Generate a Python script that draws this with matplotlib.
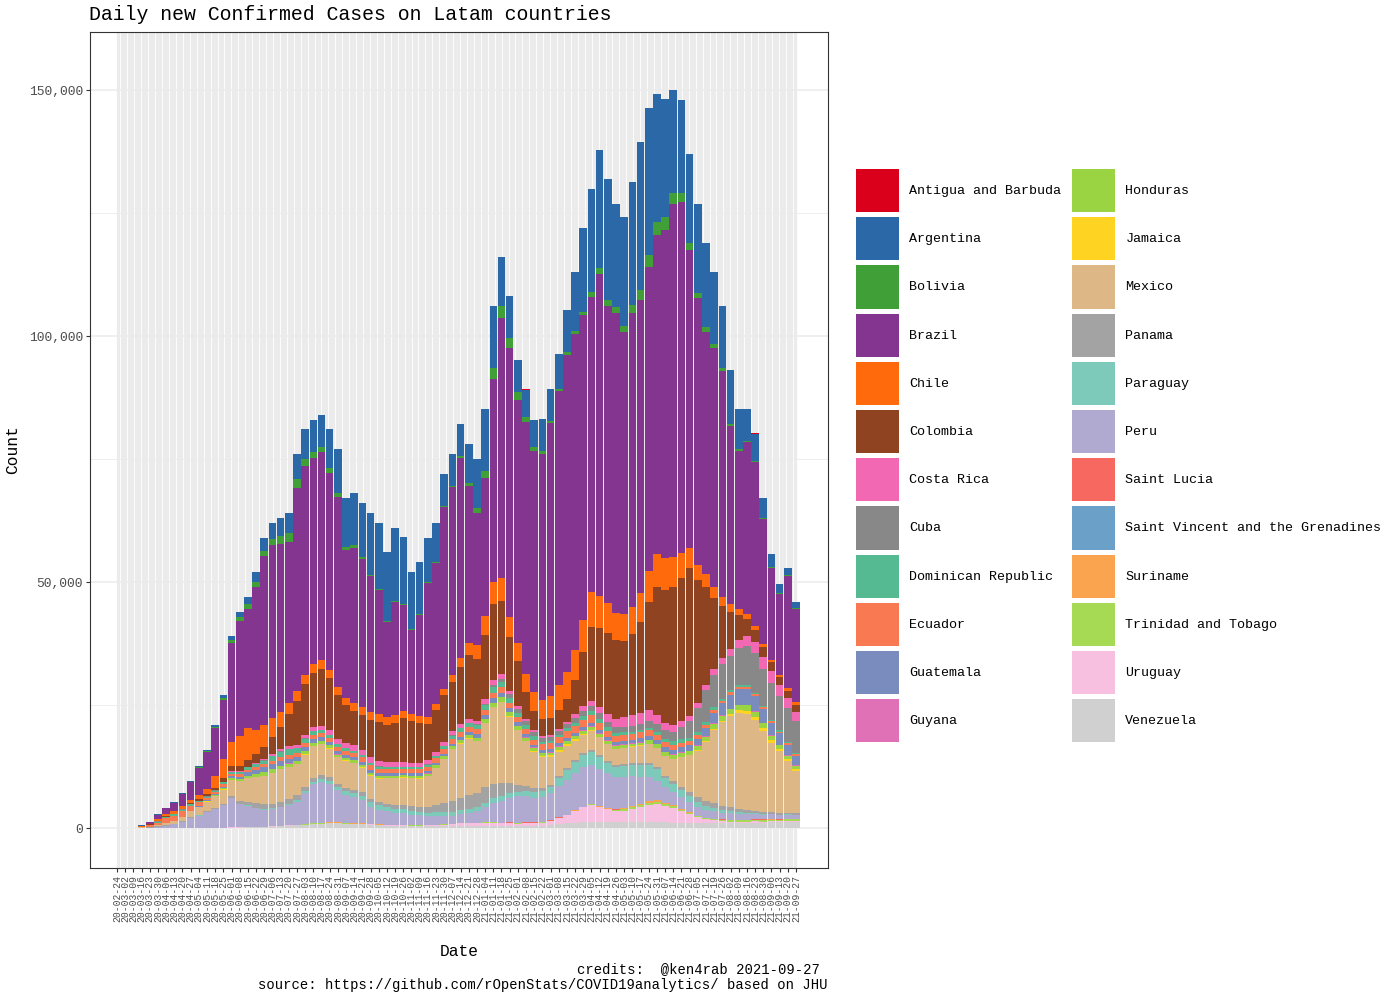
import numpy as np
import pandas as pd
import matplotlib
matplotlib.use("Agg")
import matplotlib.pyplot as plt
import matplotlib.dates as mdates
from matplotlib.patches import Patch
from matplotlib.ticker import FuncFormatter

plt.rcParams['font.family'] = ['Liberation Mono', 'DejaVu Sans Mono']

# one reading per week (monday), the x axis goes from 20-02-24 to 21-09-27
weeks = pd.date_range("2020-02-24", "2021-09-27", freq="7D")

countries = ["Antigua and Barbuda", "Argentina", "Bolivia", "Brazil", "Chile",
             "Colombia", "Costa Rica", "Cuba", "Dominican Republic", "Ecuador",
             "Guatemala", "Guyana", "Honduras", "Jamaica", "Mexico", "Panama",
             "Paraguay", "Peru", "Saint Lucia", "Saint Vincent and the Grenadines",
             "Suriname", "Trinidad and Tobago", "Uruguay", "Venezuela"]
colors = ["#DA001C", "#2B68A8", "#40A037", "#84358F", "#FF6A0C",
          "#8F4320", "#F268B2", "#888888", "#55B991", "#F97A52",
          "#7A8BBE", "#E071B6", "#9AD442", "#FFD322", "#DDB785", "#A3A3A3",
          "#7DCABA", "#B0A9D0", "#F76960", "#6BA0C9",
          "#FBA450", "#A6DA55", "#F8C0E0", "#D0D0D0"]

# daily new confirmed cases (thousands)
antigua = [0]*40 + [0, 0, 0, 0, 0, 0, 0, 0, 0.005, 0.01,
           0.02, 0.02, 0.01, 0.01, 0.005, 0.005, 0.005, 0.005, 0.005, 0.005] + [0.002]*10 + \
          [0, 0, 0, 0.005, 0.01, 0.02, 0.03, 0.04, 0.05, 0.05, 0.05, 0.04, 0.03, 0.02]
argentina = [0, 0, 0.005, 0.05, 0.08, 0.1, 0.1, 0.1, 0.12, 0.15,
             0.2, 0.25, 0.4, 0.6, 0.8, 1.2, 1.5, 2.0, 2.6, 3.2,
             3.6, 4.0, 5.0, 6.0, 6.5, 6.5, 8.0, 9.0, 10.0, 10.5,
             11.0, 12.5, 13.5, 14.0, 15.0, 13.5, 11.5, 10.5, 9.0, 8.0,
             6.5, 6.5, 6.5, 8.0, 10.0, 12.5, 12.5, 10.0, 8.5, 6.5,
             5.5, 5.5, 6.5, 6.5, 7.0, 8.5, 12.0, 17.0, 21.0, 24.0,
             24.5, 21.0, 22.0, 25.0, 30.0, 30.0, 26.0, 24.0, 21.0, 19.0,
             18.0, 18.0, 17.0, 14.5, 12.5, 11.0, 8.0, 6.5, 5.5, 4.0,
             2.5, 1.8, 1.5, 1.2]
bolivia = [0, 0, 0, 0.01, 0.01, 0.01, 0.02, 0.02, 0.03, 0.05,
           0.1, 0.15, 0.3, 0.4, 0.5, 0.7, 0.9, 1.0, 1.1, 1.3,
           1.6, 1.8, 1.8, 1.5, 1.4, 1.2, 1.0, 0.8, 0.6, 0.5,
           0.4, 0.3, 0.2, 0.2, 0.2, 0.2, 0.2, 0.2, 0.2, 0.2,
           0.2, 0.3, 0.4, 0.6, 1.0, 1.5, 2.2, 2.4, 2.0, 1.5,
           1.0, 0.8, 0.6, 0.5, 0.5, 0.5, 0.5, 0.7, 1.0, 1.2,
           1.3, 1.2, 1.3, 1.6, 2.0, 2.4, 2.7, 2.5, 2.1, 1.8,
           1.5, 1.2, 1.0, 0.8, 0.6, 0.5, 0.4, 0.3, 0.3, 0.3,
           0.3, 0.2, 0.2, 0.2]
brazil = [0, 0.01, 0.03, 0.14, 0.3, 0.94, 1.24, 1.7, 2.5, 3.7,
          5.5, 7.5, 9.6, 11.9, 20.2, 23.4, 24.2, 29.0, 34.3, 35.1,
          34.2, 32.8, 41.3, 42.4, 41.8, 42.2, 40.0, 38.6, 29.9, 31.7,
          30.1, 27.7, 25.2, 19.2, 22.9, 21.5, 17.1, 20.6, 27.3, 28.6,
          37.1, 38.2, 40.6, 31.9, 26.8, 28.0, 41.2, 52.9, 54.7, 49.4,
          51.3, 49.0, 50.0, 55.4, 59.8, 64.6, 64.3, 62.0, 60.0, 65.5,
          60.4, 61.0, 57.3, 59.7, 59.6, 61.7, 64.8, 66.7, 71.9, 71.4,
          60.6, 54.2, 49.3, 48.7, 46.0, 36.2, 32.2, 34.8, 33.3, 25.4,
          18.6, 16.5, 22.8, 19.1]
chile = [0, 0, 0.01, 0.05, 0.15, 0.3, 0.4, 0.45, 0.45, 0.5,
         0.8, 1.2, 2.5, 4.0, 5.0, 6.0, 6.5, 5.0, 4.5, 4.0,
         3.0, 2.3, 2.0, 1.8, 1.8, 1.8, 1.7, 1.6, 1.5, 1.5,
         1.6, 1.6, 1.5, 1.7, 1.6, 1.5, 1.4, 1.4, 1.3, 1.2,
         1.2, 1.4, 1.8, 2.4, 3.0, 3.8, 4.5, 4.5, 4.0, 3.8,
         3.6, 3.8, 4.0, 4.5, 5.0, 5.5, 6.0, 6.5, 7.0, 6.5,
         6.0, 5.5, 5.5, 5.5, 5.8, 6.3, 6.8, 6.5, 6.0, 5.0,
         4.0, 3.0, 2.5, 2.2, 1.8, 1.5, 1.2, 1.0, 0.8, 0.6,
         0.5, 0.5, 0.6, 0.6]
colombia = [0, 0, 0, 0.02, 0.05, 0.1, 0.1, 0.12, 0.15, 0.25,
            0.35, 0.4, 0.5, 0.7, 1.0, 1.2, 1.4, 1.8, 2.5, 3.3,
            4.5, 6.5, 9.0, 10.5, 11.0, 11.5, 10.5, 9.0, 7.8, 7.0,
            7.0, 7.5, 8.0, 7.5, 8.0, 9.0, 8.5, 8.0, 7.5, 8.5,
            9.5, 10.0, 11.5, 13.0, 12.5, 13.0, 15.5, 15.0, 11.0, 9.0,
            5.5, 4.0, 3.3, 3.5, 3.8, 4.5, 7.0, 11.0, 15.0, 16.0,
            16.5, 16.0, 15.5, 16.5, 18.5, 22.0, 26.0, 27.0, 28.0, 29.0,
            30.0, 25.0, 20.0, 14.5, 10.5, 7.5, 5.0, 3.5, 2.5, 2.0,
            1.8, 1.5, 1.4, 1.3]
costa_rica = [0, 0, 0.005, 0.01, 0.02, 0.02, 0.02, 0.01, 0.005, 0.005,
              0.005, 0.01, 0.01, 0.01, 0.02, 0.04, 0.08, 0.15, 0.25, 0.4,
              0.5, 0.55, 0.6, 0.65, 0.75, 0.85, 0.9, 0.9, 1.0, 1.1,
              1.0, 1.1, 1.1, 1.0, 0.9, 0.9, 0.9, 0.8, 0.8, 0.8,
              0.8, 0.8, 0.9, 0.8, 0.7, 1.0, 1.0, 0.9, 0.7, 0.6,
              0.5, 0.4, 0.4, 0.4, 0.4, 0.5, 0.7, 0.9, 1.1, 1.4,
              1.6, 1.7, 1.9, 2.2, 2.3, 2.2, 1.8, 1.5, 1.4, 1.2,
              1.0, 1.0, 1.1, 1.2, 1.3, 1.5, 1.7, 2.0, 2.3, 2.4,
              2.4, 2.2, 2.0, 1.8]
cuba = [0, 0, 0, 0.01, 0.02, 0.03, 0.04, 0.04, 0.03, 0.02,
        0.02, 0.01, 0.01, 0.01, 0.01, 0.01, 0.01, 0.01, 0.01, 0.01,
        0.01, 0.02, 0.03, 0.04, 0.04, 0.05, 0.05, 0.05, 0.05, 0.05,
        0.05, 0.04, 0.04, 0.05, 0.05, 0.05, 0.05, 0.05, 0.05, 0.05,
        0.05, 0.05, 0.06, 0.07, 0.1, 0.3, 0.5, 0.6, 0.8, 0.9,
        0.8, 0.8, 0.8, 0.8, 0.8, 0.9, 1.0, 1.1, 1.1, 1.1,
        1.1, 1.1, 1.2, 1.2, 1.3, 1.4, 1.6, 1.8, 2.0, 2.5,
        3.5, 5.0, 6.5, 6.5, 7.0, 7.0, 7.5, 8.0, 8.0, 7.5,
        7.5, 7.0, 6.8, 6.5]
dominican = [0, 0, 0, 0.01, 0.05, 0.2, 0.25, 0.3, 0.3, 0.35,
             0.3, 0.3, 0.35, 0.4, 0.4, 0.5, 0.6, 0.7, 0.8, 1.0,
             1.1, 1.1, 1.0, 0.9, 0.8, 0.7, 0.6, 0.6, 0.5, 0.5,
             0.5, 0.5, 0.4, 0.4, 0.4, 0.4, 0.4, 0.5, 0.5, 0.5,
             0.6, 0.7, 0.8, 0.8, 0.9, 1.0, 1.1, 1.1, 1.0, 0.9,
             0.8, 0.7, 0.6, 0.5, 0.5, 0.5, 0.6, 0.7, 0.8, 0.8,
             0.7, 0.6, 0.5, 0.4, 0.4, 0.5, 0.6, 0.7, 0.8, 0.8,
             0.7, 0.6, 0.5, 0.5, 0.4, 0.4, 0.4, 0.4, 0.3, 0.3,
             0.3, 0.3, 0.3, 0.3]
ecuador = [0, 0, 0.01, 0.1, 0.3, 0.5, 0.9, 1.0, 1.2, 1.0,
           0.8, 0.5, 0.4, 0.6, 0.6, 0.5, 0.4, 0.5, 0.6, 0.7,
           0.8, 0.8, 0.8, 0.9, 0.9, 0.8, 0.8, 0.9, 0.8, 0.8,
           0.9, 0.9, 0.9, 0.9, 0.9, 0.8, 0.8, 0.8, 0.8, 0.9,
           0.9, 1.0, 1.0, 1.0, 1.0, 1.0, 1.1, 1.1, 1.0, 1.0,
           1.0, 1.0, 1.1, 1.2, 1.3, 1.4, 1.5, 1.5, 1.5, 1.4,
           1.3, 1.3, 1.2, 1.2, 1.2, 1.1, 1.0, 1.0, 0.9, 0.9,
           0.8, 0.7, 0.6, 0.6, 0.5, 0.5, 0.5, 0.4, 0.4, 0.4,
           0.3, 0.3, 0.3, 0.3]
guatemala = [0, 0, 0, 0.005, 0.01, 0.01, 0.01, 0.02, 0.03, 0.05,
             0.07, 0.1, 0.15, 0.25, 0.4, 0.55, 0.7, 0.9, 1.0, 1.0,
             1.0, 1.0, 0.9, 0.8, 0.7, 0.7, 0.7, 0.6, 0.6, 0.6,
             0.6, 0.6, 0.5, 0.5, 0.5, 0.5, 0.5, 0.5, 0.5, 0.5,
             0.5, 0.5, 0.6, 0.6, 0.7, 0.8, 0.9, 0.9, 0.8, 0.8,
             0.7, 0.6, 0.6, 0.6, 0.6, 0.6, 0.6, 0.7, 0.7, 0.7,
             0.7, 0.7, 0.7, 0.7, 0.8, 0.8, 0.8, 0.9, 0.9, 1.0,
             1.1, 1.3, 1.7, 2.1, 2.5, 2.8, 3.1, 3.2, 3.0, 2.8,
             2.6, 2.4, 2.2, 2.0]
guyana = [0, 0, 0, 0, 0.002, 0.002, 0.003, 0.003, 0.003, 0.003,
          0.004, 0.005, 0.006, 0.007, 0.008, 0.01, 0.01, 0.01, 0.01, 0.01,
          0.01, 0.015, 0.02, 0.03, 0.04, 0.05, 0.06, 0.06, 0.05, 0.04,
          0.03, 0.03, 0.03, 0.03, 0.03, 0.03, 0.03, 0.02, 0.02, 0.02,
          0.02, 0.02, 0.02, 0.02, 0.02, 0.02, 0.03, 0.03, 0.03, 0.03,
          0.03, 0.03, 0.03, 0.04, 0.05, 0.06, 0.08, 0.1, 0.1, 0.1,
          0.1, 0.1, 0.1, 0.1, 0.1, 0.1, 0.1, 0.1, 0.1, 0.1,
          0.1, 0.1, 0.1, 0.1, 0.08, 0.08, 0.08, 0.1, 0.1, 0.1,
          0.1, 0.1, 0.1, 0.1]
honduras = [0, 0, 0, 0.01, 0.02, 0.04, 0.03, 0.03, 0.04, 0.06,
            0.08, 0.1, 0.15, 0.25, 0.3, 0.4, 0.5, 0.6, 0.7, 0.7,
            0.7, 0.7, 0.6, 0.6, 0.6, 0.6, 0.6, 0.5, 0.5, 0.5,
            0.5, 0.5, 0.5, 0.4, 0.4, 0.4, 0.4, 0.5, 0.5, 0.5,
            0.5, 0.5, 0.6, 0.6, 0.6, 0.8, 0.9, 0.9, 0.8, 0.7,
            0.6, 0.6, 0.6, 0.6, 0.6, 0.6, 0.6, 0.6, 0.6, 0.6,
            0.6, 0.6, 0.6, 0.6, 0.6, 0.7, 0.7, 0.7, 0.8, 0.8,
            0.8, 0.9, 0.9, 1.0, 1.0, 1.1, 1.1, 1.2, 1.1, 1.0,
            0.9, 0.8, 0.7, 0.6]
jamaica = [0, 0, 0, 0.005, 0.005, 0.01, 0.01, 0.01, 0.01, 0.01,
           0.01, 0.01, 0.01, 0.01, 0.01, 0.01, 0.01, 0.01, 0.01, 0.01,
           0.01, 0.02, 0.02, 0.02, 0.02, 0.03, 0.05, 0.08, 0.1, 0.1,
           0.1, 0.1, 0.1, 0.08, 0.07, 0.06, 0.05, 0.05, 0.05, 0.05,
           0.06, 0.07, 0.08, 0.08, 0.07, 0.07, 0.07, 0.08, 0.1, 0.12,
           0.15, 0.2, 0.3, 0.4, 0.4, 0.35, 0.3, 0.25, 0.2, 0.15,
           0.12, 0.1, 0.1, 0.1, 0.1, 0.1, 0.1, 0.08, 0.08, 0.08,
           0.1, 0.12, 0.15, 0.2, 0.3, 0.4, 0.5, 0.6, 0.6, 0.5,
           0.5, 0.4, 0.4, 0.35]
mexico = [0, 0, 0.01, 0.03, 0.08, 0.2, 0.4, 0.5, 0.8, 1.2,
          1.6, 2.0, 2.5, 3.0, 3.3, 4.0, 4.8, 5.3, 5.8, 6.3,
          6.6, 6.5, 6.3, 6.5, 6.5, 6.3, 5.8, 5.3, 5.5, 5.3,
          5.0, 4.8, 4.8, 5.2, 5.5, 5.6, 5.7, 5.8, 6.2, 7.5,
          9.0, 10.5, 11.0, 11.5, 10.5, 13.0, 15.5, 16.5, 13.5, 11.0,
          9.0, 7.5, 6.3, 5.5, 5.0, 4.6, 4.0, 3.7, 4.0, 3.6,
          3.3, 3.2, 3.2, 3.3, 3.5, 3.8, 3.8, 4.0, 4.5, 6.0,
          7.5, 9.5, 12.0, 15.0, 17.0, 18.5, 19.5, 19.5, 18.5, 16.5,
          14.0, 12.5, 10.5, 8.7]
panama = [0, 0, 0, 0.03, 0.1, 0.15, 0.15, 0.15, 0.12, 0.12,
          0.12, 0.12, 0.15, 0.2, 0.3, 0.5, 0.7, 0.9, 1.0, 1.0,
          1.0, 1.1, 1.0, 0.9, 0.8, 0.8, 0.7, 0.7, 0.7, 0.7,
          0.7, 0.6, 0.6, 0.6, 0.7, 0.8, 0.9, 1.0, 1.2, 1.5,
          1.9, 2.2, 2.6, 2.8, 3.0, 3.2, 3.0, 2.6, 2.0, 1.5,
          1.1, 0.8, 0.6, 0.5, 0.4, 0.4, 0.4, 0.4, 0.4, 0.4,
          0.4, 0.4, 0.4, 0.4, 0.4, 0.5, 0.5, 0.5, 0.6, 0.7,
          0.8, 0.9, 1.0, 1.0, 0.9, 0.8, 0.7, 0.6, 0.5, 0.45,
          0.4, 0.35, 0.3, 0.3]
paraguay = [0, 0, 0, 0.005, 0.005, 0.01, 0.01, 0.01, 0.01, 0.01,
            0.01, 0.02, 0.03, 0.03, 0.04, 0.05, 0.06, 0.08, 0.1, 0.12,
            0.15, 0.2, 0.3, 0.4, 0.5, 0.6, 0.7, 0.7, 0.8, 0.8,
            0.8, 0.9, 0.9, 0.9, 0.8, 0.8, 0.8, 0.7, 0.7, 0.7,
            0.7, 0.8, 0.8, 0.8, 0.8, 0.9, 1.0, 1.0, 1.0, 0.9,
            1.0, 1.1, 1.2, 1.3, 1.6, 2.0, 2.2, 2.4, 2.5, 2.4,
            2.2, 2.0, 2.2, 2.3, 2.4, 2.5, 2.3, 1.8, 1.6, 1.4,
            1.2, 1.0, 0.8, 0.6, 0.5, 0.4, 0.3, 0.25, 0.2, 0.2,
            0.15, 0.15, 0.1, 0.1]
peru = [0, 0, 0, 0.02, 0.06, 0.15, 0.4, 0.7, 1.2, 2.0,
        2.5, 3.2, 3.8, 4.5, 6.0, 4.8, 4.4, 3.8, 3.4, 3.5,
        3.7, 4.0, 4.6, 6.3, 7.8, 8.3, 7.8, 6.5, 5.6, 5.4,
        4.8, 3.5, 3.0, 2.8, 2.5, 2.4, 2.2, 2.0, 1.8, 1.8,
        1.7, 1.6, 1.7, 2.0, 2.3, 3.0, 3.8, 4.4, 5.0, 5.4,
        5.4, 5.0, 5.0, 5.5, 6.4, 7.0, 7.5, 8.0, 8.0, 7.6,
        7.0, 6.6, 6.4, 6.0, 5.4, 4.8, 4.0, 3.2, 2.7, 2.4,
        2.0, 1.8, 1.6, 1.5, 1.4, 1.3, 1.2, 1.1, 1.0, 0.9,
        0.9, 0.8, 0.8, 0.7]
saint_lucia = [0]*40 + [0, 0, 0, 0.005, 0.01, 0.02, 0.03, 0.04, 0.05, 0.05,
               0.05, 0.06, 0.06, 0.05, 0.04, 0.03, 0.02, 0.02, 0.02, 0.02] + [0.01]*10 + \
              [0.01, 0.01, 0.01, 0.02, 0.03, 0.05, 0.07, 0.08, 0.09, 0.1, 0.09, 0.08, 0.06, 0.05]
saint_vincent = [0]*40 + [0, 0, 0, 0, 0, 0, 0.01, 0.01, 0.02, 0.02,
                 0.02, 0.02, 0.03, 0.03, 0.03, 0.02, 0.02, 0.02, 0.02, 0.02] + [0.01]*10 + \
                [0.01, 0.01, 0.01, 0.02, 0.02, 0.03, 0.03, 0.03, 0.04, 0.04, 0.04, 0.03, 0.03, 0.03]
suriname = [0]*17 + [0.01, 0.02, 0.03,
            0.05, 0.07, 0.08, 0.08, 0.07, 0.06, 0.05, 0.04, 0.03, 0.03] + [0.03]*20 + \
           [0.03, 0.03, 0.03, 0.03, 0.04, 0.05, 0.06, 0.07, 0.08, 0.1,
            0.12, 0.15, 0.2, 0.25, 0.3, 0.3, 0.3, 0.25, 0.2, 0.15,
            0.12, 0.1, 0.1, 0.08, 0.08, 0.06, 0.05, 0.05, 0.04, 0.04,
            0.03, 0.03, 0.03, 0.03]
trinidad = [0, 0, 0, 0, 0, 0.005, 0.005, 0.005, 0.005, 0.005,
            0.005, 0.005, 0.005, 0.005, 0.005, 0.01, 0.01, 0.01, 0.01, 0.01,
            0.01, 0.01, 0.02, 0.04, 0.08, 0.08, 0.08, 0.08, 0.08, 0.08,
            0.08, 0.08, 0.08, 0.03, 0.03, 0.03, 0.03, 0.03, 0.03, 0.03] + [0.03]*16 + \
           [0.05, 0.06, 0.08, 0.1,
            0.15, 0.2, 0.3, 0.4, 0.45, 0.45, 0.4, 0.35, 0.3, 0.25,
            0.2, 0.2, 0.2, 0.2, 0.2, 0.25, 0.25, 0.25, 0.25, 0.25,
            0.3, 0.3, 0.3, 0.3]
uruguay = [0, 0, 0] + [0.01]*27 + \
          [0.02, 0.03, 0.03, 0.04, 0.05, 0.06, 0.08, 0.1, 0.15, 0.2,
           0.3, 0.45, 0.6, 0.6, 0.6, 0.7, 0.7, 0.6, 0.6, 0.5,
           0.5, 0.5, 0.6, 0.8, 1.2, 1.6, 2.4, 3.0, 3.4, 3.0,
           2.6, 2.2, 2.3, 2.6, 3.0, 3.5, 3.7, 3.3, 3.0, 2.4,
           1.8, 1.2, 0.8, 0.6, 0.4, 0.3, 0.3, 0.3, 0.25, 0.2,
           0.2, 0.15, 0.15, 0.15]
venezuela = [0, 0, 0, 0.01, 0.01, 0.01, 0.01, 0.01, 0.01, 0.02,
             0.02, 0.03, 0.06, 0.08, 0.1, 0.1, 0.15, 0.2, 0.25, 0.3,
             0.4, 0.5, 0.6, 0.7, 0.9, 0.9, 1.0, 1.0, 0.9, 0.8,
             0.8, 0.7, 0.6, 0.5, 0.5, 0.5, 0.4, 0.4, 0.4, 0.4,
             0.4, 0.4, 0.4, 0.4, 0.4, 0.4, 0.4, 0.4, 0.4, 0.4,
             0.5, 0.5, 0.5, 0.6, 0.8, 1.0, 1.1, 1.2, 1.3, 1.2,
             1.2, 1.2, 1.2, 1.2, 1.2, 1.2, 1.2, 1.2, 1.1, 1.1,
             1.1, 1.0, 1.0, 1.0, 1.0, 1.0, 1.0, 1.0, 1.1, 1.1,
             1.2, 1.2, 1.3, 1.3]

series = [antigua, argentina, bolivia, brazil, chile, colombia, costa_rica, cuba,
          dominican, ecuador, guatemala, guyana, honduras, jamaica, mexico, panama,
          paraguay, peru, saint_lucia, saint_vincent, suriname, trinidad, uruguay,
          venezuela]

fig = plt.figure(figsize=(14, 10), dpi=100)
ax = fig.add_axes([90/1400, 132/1000, 738/1400, 836/1000])

x = mdates.date2num(weeks)

# dense daily grid lines, as in the original
days = np.arange(x[0], x[-1] + 1)
ax.vlines(days, 0, 1, transform=ax.get_xaxis_transform(), color="#EBEBEB", lw=0.8, zorder=0)
for yv in [25000, 75000, 125000]:
    ax.axhline(yv, color="#EBEBEB", lw=0.6, zorder=0.5)
for yv in [0, 50000, 100000, 150000]:
    ax.axhline(yv, color="#EBEBEB", lw=1.1, zorder=0.5)

# stacked bars, first country ends on top
bottom = np.zeros(len(weeks))
for name, col, vals in reversed(list(zip(countries, colors, series))):
    v = np.array(vals) * 1000
    ax.bar(x, v, width=6.5, bottom=bottom, color=col, linewidth=0, zorder=2)
    bottom += v

ax.set_xlim(x[0] - 23.1, x[0] + 608.4)
ax.set_ylim(-8130, 161790)

ax.set_xticks(x)
ax.set_xticklabels(weeks.strftime("%y-%m-%d"), rotation=90, fontsize=7, color="#4D4D4D")
ax.set_yticks([0, 50000, 100000, 150000])
ax.yaxis.set_major_formatter(FuncFormatter(lambda v, p: f"{int(v):,}"))
ax.tick_params(axis="y", labelsize=9.4, labelcolor="#4D4D4D")
ax.tick_params(length=3, width=0.8, color="#333333", pad=2)
for s in ax.spines.values():
    s.set_color("#333333")
    s.set_linewidth(0.8)

handles = [Patch(facecolor=c, edgecolor="none") for c in colors]
fig.legend(handles, countries, ncol=2, loc="upper left",
           bbox_to_anchor=(856/1400, 1 - 169/1000), frameon=False, fontsize=9.6,
           handlelength=3.2, handleheight=4.6, labelspacing=0.38,
           handletextpad=0.8, columnspacing=0.8, borderpad=0, borderaxespad=0)

fig.text(89/1400, 1 - 15/1000, "Daily new Confirmed Cases on Latam countries",
         fontsize=14.3, ha="left", va="center")
fig.text(13/1400, 0.55, "Count", rotation=90, fontsize=11.7, ha="center", va="center")
fig.text(459/1400, 1 - 951/1000, "Date", fontsize=11.7, ha="center", va="center")
fig.text(828/1400, 1 - 969/1000, "credits:  @ken4rab 2021-09-27 ", fontsize=10,
         ha="right", va="center")
fig.text(828/1400, 1 - 985/1000,
         "source: https://github.com/rOpenStats/COVID19analytics/ based on JHU",
         fontsize=10, ha="right", va="center")

fig.savefig("out.png", dpi=100)
